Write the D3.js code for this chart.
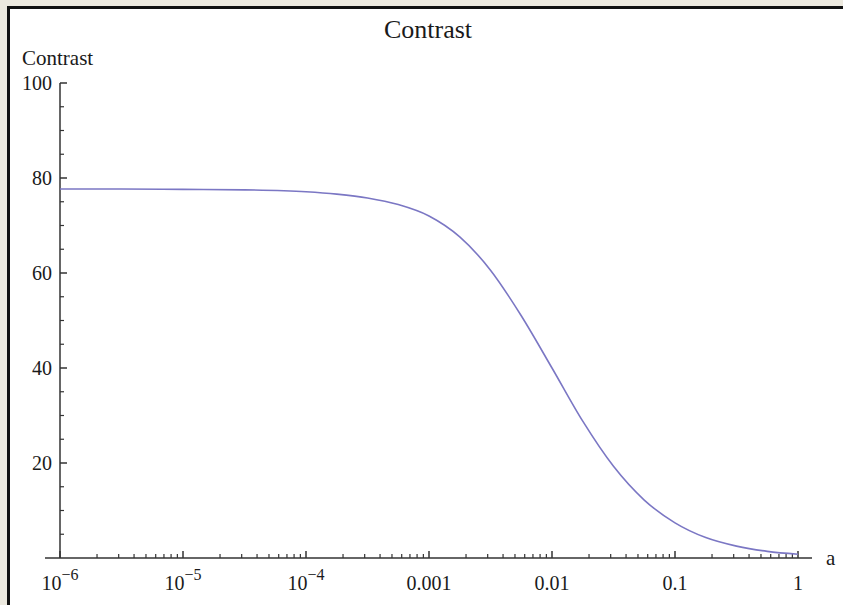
<!DOCTYPE html>
<html>
<head>
<meta charset="utf-8">
<script src="https://cdn.jsdelivr.net/npm/d3@7"></script>
<style>
  html, body { margin: 0; padding: 0; background: #ece9df; }
  svg { display: block; }
</style>
</head>
<body>
<div id="chart"></div>
<script>
// curve, at quarter-decade steps of a
const logA = [-6, -5.5, -5, -4.5, -4, -3.75, -3.5, -3.25, -3, -2.75, -2.5, -2.25, -2,
  -1.75, -1.5, -1.25, -1, -0.75, -0.5, -0.25, 0];
const contrast = [77.7, 77.7, 77.6, 77.5, 77.1, 76.6, 75.8, 74.4, 72.0, 67.6, 60.6, 51.0, 40.0,
  28.8, 19.3, 12.2, 7.4, 4.3, 2.5, 1.4, 0.8];

const xTickValues = [1e-6, 1e-5, 1e-4, 1e-3, 1e-2, 1e-1, 1];
const xTickLabels = [["10", "\u22126"], ["10", "\u22125"], ["10", "\u22124"], ["0.001"], ["0.01"], ["0.1"], ["1"]];
const yTickValues = [20, 40, 60, 80, 100];

const width = 843, height = 605;
const svg = d3.select("#chart").append("svg")
  .attr("width", width).attr("height", height);

// frame: beige page, white panel with dark edge on left/top
svg.append("rect").attr("x", 0).attr("y", 0).attr("width", width).attr("height", height).attr("fill", "#ece9df");
svg.append("rect").attr("x", 7).attr("y", 6).attr("width", width).attr("height", height).attr("fill", "#111");
svg.append("rect").attr("x", 10).attr("y", 9).attr("width", width).attr("height", height).attr("fill", "#fff");

const x = d3.scaleLog().domain([1e-6, 1]).range([60, 798]);
const y = d3.scaleLinear().domain([0, 100]).range([558, 83]);

const axisColor = "#333";
const textColor = "#1a1a1a";
const font = "'Liberation Serif', 'Times New Roman', serif";

// title
svg.append("text").attr("x", 428).attr("y", 38).attr("text-anchor", "middle")
  .attr("font-family", font).attr("font-size", 26).attr("fill", textColor).text("Contrast");

// y axis
const yAxis = svg.append("g");
yAxis.append("line").attr("x1", x(1e-6)).attr("x2", x(1e-6)).attr("y1", y(100)).attr("y2", y(0))
  .attr("stroke", axisColor).attr("stroke-width", 1.5);
const yMinor = d3.range(5, 100, 5).filter(v => v % 20 !== 0);
yAxis.selectAll("line.minor").data(yMinor).join("line").attr("class", "minor")
  .attr("x1", x(1e-6)).attr("x2", x(1e-6) + 4).attr("y1", d => y(d)).attr("y2", d => y(d))
  .attr("stroke", axisColor).attr("stroke-width", 1.2);
yAxis.selectAll("line.major").data(yTickValues).join("line").attr("class", "major")
  .attr("x1", x(1e-6)).attr("x2", x(1e-6) + 7).attr("y1", d => y(d)).attr("y2", d => y(d))
  .attr("stroke", axisColor).attr("stroke-width", 1.5);
yAxis.selectAll("text").data(yTickValues).join("text")
  .attr("x", 52).attr("y", d => y(d) + 7).attr("text-anchor", "end")
  .attr("font-family", font).attr("font-size", 20).attr("fill", textColor).text(d => d);
svg.append("text").attr("x", 22).attr("y", 65)
  .attr("font-family", font).attr("font-size", 21).attr("fill", textColor).text("Contrast");

// x axis
const xAxis = svg.append("g");
xAxis.append("line").attr("x1", 45).attr("x2", 812).attr("y1", y(0)).attr("y2", y(0))
  .attr("stroke", axisColor).attr("stroke-width", 1.5);
const xMinor = [];
for (let e = -6; e < 0; e++) for (let m = 2; m <= 9; m++) xMinor.push(m * Math.pow(10, e));
xAxis.selectAll("line.minor").data(xMinor).join("line").attr("class", "minor")
  .attr("x1", d => x(d)).attr("x2", d => x(d)).attr("y1", y(0)).attr("y2", y(0) - 4)
  .attr("stroke", axisColor).attr("stroke-width", 1.2);
xAxis.selectAll("line.major").data(xTickValues).join("line").attr("class", "major")
  .attr("x1", d => x(d)).attr("x2", d => x(d)).attr("y1", y(0)).attr("y2", y(0) - 7)
  .attr("stroke", axisColor).attr("stroke-width", 1.5);
const lab = xAxis.selectAll("text").data(xTickValues).join("text")
  .attr("x", d => x(d)).attr("y", 590).attr("text-anchor", "middle")
  .attr("font-family", font).attr("font-size", 20).attr("fill", textColor);
lab.each(function (d, i) {
  const t = d3.select(this), parts = xTickLabels[i];
  t.append("tspan").text(parts[0]);
  if (parts[1]) t.append("tspan").attr("dy", -10).attr("font-size", 16).text(parts[1]);
});
svg.append("text").attr("x", 826).attr("y", 565)
  .attr("font-family", font).attr("font-size", 21).attr("fill", textColor).text("a");

// curve
const pts = logA.map((l, i) => [Math.pow(10, l), contrast[i]]);
svg.append("path").datum(pts)
  .attr("fill", "none").attr("stroke", "#7b77c4").attr("stroke-width", 1.6)
  .attr("d", d3.line().x(d => x(d[0])).y(d => y(d[1])).curve(d3.curveMonotoneX));
</script>
</body>
</html>
